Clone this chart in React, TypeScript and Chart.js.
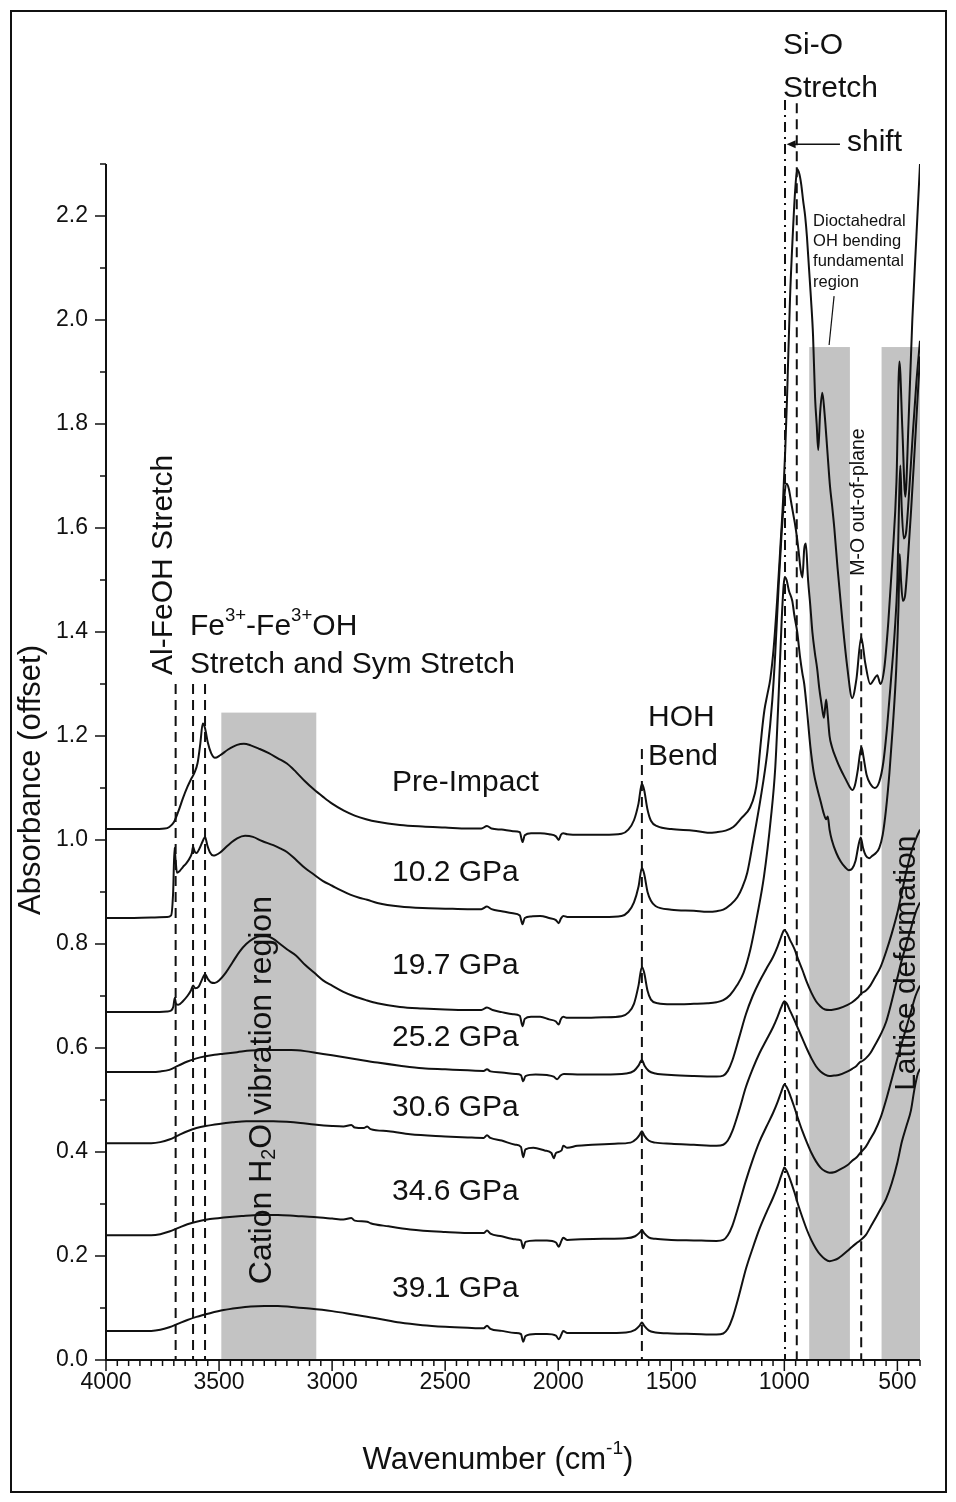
import { useEffect, useRef } from 'react';
import { Chart, registerables } from 'chart.js';

Chart.register(...registerables);

type Pt = [number, number];

// Absorbance spectra (wavenumber in cm^-1, absorbance with vertical offset)
const preImpact: Pt[] = [
  [4000, 1.021], [3900, 1.021], [3800, 1.021], [3740, 1.022], [3720, 1.025], [3700, 1.034], [3680, 1.055],
  [3660, 1.08], [3640, 1.102], [3625, 1.116], [3610, 1.128], [3595, 1.148], [3583, 1.185], [3572, 1.224],
  [3562, 1.215], [3550, 1.188], [3535, 1.167], [3518, 1.158], [3495, 1.163], [3460, 1.174], [3420, 1.183],
  [3390, 1.185], [3360, 1.182], [3320, 1.175], [3280, 1.167], [3240, 1.157], [3200, 1.147], [3160, 1.131],
  [3120, 1.113], [3080, 1.097], [3040, 1.083], [3000, 1.07], [2950, 1.057], [2900, 1.047], [2850, 1.04],
  [2800, 1.035], [2700, 1.029], [2600, 1.026], [2500, 1.024], [2400, 1.022], [2340, 1.022], [2315, 1.027],
  [2295, 1.022], [2250, 1.02], [2200, 1.017], [2170, 1.015], [2158, 0.996], [2148, 1.009], [2120, 1.013],
  [2080, 1.013], [2040, 1.011], [2010, 1.007], [1998, 1.0], [1988, 1.01], [1978, 1.013], [1960, 1.011],
  [1900, 1.01], [1800, 1.01], [1720, 1.012], [1690, 1.02], [1665, 1.038], [1645, 1.07], [1630, 1.108],
  [1620, 1.096], [1605, 1.058], [1590, 1.037], [1560, 1.026], [1500, 1.021], [1400, 1.018], [1340, 1.014],
  [1300, 1.015], [1260, 1.018], [1226, 1.025], [1190, 1.042], [1152, 1.062], [1130, 1.09], [1120, 1.115],
  [1108, 1.17], [1099, 1.21], [1088, 1.25], [1075, 1.28], [1062, 1.31], [1047, 1.37], [1032, 1.46],
  [1018, 1.56], [1006, 1.65], [996, 1.75], [988, 1.85], [975, 2.04], [962, 2.17], [952, 2.25], [943, 2.29],
  [933, 2.28], [925, 2.26], [917, 2.23], [908, 2.2], [900, 2.16], [891, 2.1], [882, 2.04], [873, 1.97],
  [864, 1.85], [857, 1.8], [850, 1.75], [842, 1.82], [832, 1.86], [822, 1.82], [810, 1.75], [798, 1.68],
  [788, 1.64], [779, 1.6], [765, 1.525], [743, 1.42], [721, 1.33], [700, 1.273], [681, 1.31], [660, 1.39],
  [642, 1.34], [620, 1.3], [602, 1.31], [589, 1.317], [575, 1.3], [558, 1.33], [540, 1.42], [522, 1.54],
  [504, 1.69], [491, 1.92], [478, 1.79], [465, 1.66], [451, 1.8], [434, 2.0], [416, 2.16], [400, 2.3],
];

const gpa10_2: Pt[] = [
  [4000, 0.85], [3900, 0.85], [3800, 0.851], [3730, 0.852], [3712, 0.855], [3703, 0.9], [3697, 0.985],
  [3692, 0.96], [3686, 0.937], [3675, 0.94], [3660, 0.948], [3645, 0.955], [3630, 0.965], [3620, 0.975],
  [3615, 0.987], [3608, 0.978], [3600, 0.975], [3585, 0.985], [3570, 1.0], [3562, 1.006], [3552, 0.99],
  [3540, 0.976], [3525, 0.97], [3515, 0.971], [3495, 0.976], [3460, 0.99], [3420, 1.003], [3385, 1.008],
  [3350, 1.006], [3310, 0.998], [3260, 0.99], [3230, 0.984], [3200, 0.977], [3160, 0.962], [3120, 0.946],
  [3085, 0.935], [3040, 0.921], [3000, 0.912], [2965, 0.904], [2920, 0.895], [2880, 0.889], [2845, 0.885],
  [2800, 0.879], [2700, 0.872], [2600, 0.869], [2500, 0.868], [2400, 0.867], [2340, 0.867], [2315, 0.872],
  [2295, 0.867], [2250, 0.863], [2200, 0.859], [2170, 0.855], [2158, 0.838], [2148, 0.85], [2120, 0.853],
  [2080, 0.854], [2040, 0.85], [2010, 0.846], [1998, 0.84], [1988, 0.849], [1978, 0.854], [1960, 0.852],
  [1900, 0.852], [1800, 0.852], [1720, 0.854], [1690, 0.862], [1665, 0.88], [1645, 0.91], [1630, 0.946],
  [1620, 0.935], [1605, 0.9], [1590, 0.883], [1570, 0.873], [1500, 0.866], [1400, 0.864], [1340, 0.862],
  [1300, 0.863], [1270, 0.866], [1240, 0.875], [1208, 0.89], [1185, 0.91], [1164, 0.937], [1137, 1.0],
  [1106, 1.077], [1075, 1.17], [1053, 1.27], [1040, 1.36], [1025, 1.49], [1012, 1.59], [1000, 1.66],
  [990, 1.685], [980, 1.675], [970, 1.65], [962, 1.63], [950, 1.6], [938, 1.56], [928, 1.52], [920, 1.505],
  [912, 1.56], [905, 1.57], [895, 1.5], [885, 1.45], [876, 1.4], [865, 1.36], [855, 1.33], [845, 1.29],
  [835, 1.26], [825, 1.235], [815, 1.27], [808, 1.24], [800, 1.2], [790, 1.18], [770, 1.155], [750, 1.135],
  [730, 1.118], [712, 1.103], [700, 1.096], [688, 1.105], [675, 1.135], [664, 1.17], [658, 1.178],
  [650, 1.16], [636, 1.125], [620, 1.108], [600, 1.1], [580, 1.112], [562, 1.15], [545, 1.22], [528, 1.31],
  [512, 1.4], [500, 1.5], [492, 1.66], [487, 1.72], [481, 1.64], [472, 1.58], [462, 1.59], [448, 1.67],
  [432, 1.78], [416, 1.88], [400, 1.96],
];

const gpa19_7: Pt[] = [
  [4000, 0.669], [3800, 0.669], [3730, 0.67], [3712, 0.672], [3702, 0.68], [3696, 0.696], [3690, 0.685],
  [3680, 0.683], [3660, 0.69], [3640, 0.7], [3625, 0.71], [3615, 0.72], [3605, 0.715], [3590, 0.718],
  [3575, 0.732], [3562, 0.742], [3550, 0.733], [3535, 0.726], [3520, 0.725], [3500, 0.73], [3470, 0.745],
  [3440, 0.765], [3410, 0.785], [3380, 0.8], [3350, 0.81], [3320, 0.815], [3290, 0.815], [3260, 0.81],
  [3230, 0.8], [3200, 0.79], [3160, 0.778], [3120, 0.76], [3080, 0.745], [3040, 0.73], [3000, 0.72],
  [2950, 0.708], [2900, 0.699], [2850, 0.692], [2800, 0.686], [2700, 0.679], [2600, 0.676], [2500, 0.674],
  [2400, 0.673], [2340, 0.673], [2315, 0.678], [2290, 0.673], [2250, 0.669], [2200, 0.665], [2170, 0.662],
  [2158, 0.642], [2148, 0.656], [2120, 0.66], [2080, 0.66], [2040, 0.655], [2010, 0.651], [1998, 0.645],
  [1988, 0.656], [1978, 0.66], [1960, 0.658], [1900, 0.658], [1800, 0.659], [1720, 0.661], [1690, 0.668],
  [1665, 0.685], [1645, 0.72], [1630, 0.756], [1620, 0.745], [1605, 0.71], [1590, 0.693], [1560, 0.686],
  [1500, 0.684], [1400, 0.685], [1340, 0.686], [1300, 0.688], [1270, 0.692], [1240, 0.702], [1210, 0.72],
  [1180, 0.745], [1150, 0.79], [1120, 0.855], [1090, 0.93], [1060, 1.04], [1040, 1.14], [1025, 1.28],
  [1012, 1.42], [1003, 1.49], [998, 1.506], [990, 1.5], [980, 1.48], [965, 1.46], [955, 1.43], [943, 1.4],
  [930, 1.35], [920, 1.32], [912, 1.3], [900, 1.25], [885, 1.18], [870, 1.13], [855, 1.1], [840, 1.075],
  [825, 1.05], [815, 1.04], [808, 1.045], [800, 1.02], [790, 1.0], [770, 0.975], [750, 0.958], [730, 0.947],
  [715, 0.942], [700, 0.945], [685, 0.96], [672, 0.99], [662, 1.005], [652, 0.985], [640, 0.97],
  [625, 0.965], [610, 0.97], [595, 0.975], [580, 0.985], [565, 1.01], [550, 1.06], [535, 1.13], [520, 1.22],
  [505, 1.33], [495, 1.45], [490, 1.55], [484, 1.5], [476, 1.46], [466, 1.47], [455, 1.53], [440, 1.63],
  [425, 1.74], [412, 1.84], [400, 1.93],
];

const gpa25_2: Pt[] = [
  [4000, 0.554], [3800, 0.554], [3760, 0.555], [3720, 0.558], [3680, 0.566], [3640, 0.574], [3600, 0.58],
  [3560, 0.584], [3520, 0.587], [3480, 0.589], [3420, 0.592], [3360, 0.595], [3300, 0.596], [3240, 0.596],
  [3180, 0.596], [3120, 0.594], [3060, 0.59], [3000, 0.586], [2900, 0.579], [2800, 0.572], [2700, 0.566],
  [2600, 0.561], [2500, 0.559], [2400, 0.557], [2330, 0.556], [2315, 0.559], [2300, 0.555], [2250, 0.553],
  [2190, 0.55], [2165, 0.548], [2155, 0.536], [2145, 0.546], [2100, 0.549], [2050, 0.548], [2020, 0.545],
  [2005, 0.54], [1990, 0.547], [1975, 0.55], [1900, 0.549], [1800, 0.549], [1700, 0.551], [1665, 0.556],
  [1645, 0.566], [1630, 0.577], [1618, 0.566], [1600, 0.556], [1570, 0.551], [1500, 0.548], [1400, 0.546],
  [1300, 0.545], [1270, 0.547], [1250, 0.556], [1230, 0.576], [1200, 0.62], [1170, 0.665], [1140, 0.7],
  [1110, 0.728], [1080, 0.752], [1050, 0.775], [1030, 0.795], [1015, 0.813], [1005, 0.824], [1000, 0.827],
  [990, 0.822], [975, 0.808], [955, 0.79], [940, 0.772], [920, 0.75], [900, 0.726], [880, 0.706],
  [860, 0.69], [840, 0.68], [820, 0.674], [800, 0.673], [780, 0.674], [760, 0.676], [720, 0.683],
  [700, 0.688], [675, 0.697], [660, 0.705], [640, 0.71], [620, 0.72], [600, 0.735], [575, 0.755],
  [550, 0.785], [525, 0.82], [500, 0.86], [480, 0.9], [460, 0.94], [440, 0.975], [420, 1.0], [400, 1.02],
];

const gpa30_6: Pt[] = [
  [4000, 0.417], [3800, 0.417], [3760, 0.419], [3720, 0.424], [3680, 0.432], [3640, 0.44], [3600, 0.446],
  [3560, 0.45], [3500, 0.454], [3440, 0.457], [3380, 0.459], [3320, 0.459], [3260, 0.459], [3200, 0.458],
  [3140, 0.456], [3080, 0.453], [3000, 0.45], [2950, 0.449], [2915, 0.452], [2900, 0.447], [2860, 0.446],
  [2845, 0.449], [2830, 0.444], [2750, 0.44], [2655, 0.434], [2500, 0.43], [2400, 0.428], [2330, 0.427],
  [2315, 0.432], [2300, 0.427], [2250, 0.422], [2190, 0.414], [2165, 0.41], [2155, 0.39], [2145, 0.405],
  [2110, 0.408], [2060, 0.403], [2030, 0.398], [2020, 0.388], [2010, 0.398], [1985, 0.403], [1978, 0.412],
  [1960, 0.408], [1916, 0.412], [1850, 0.414], [1750, 0.416], [1680, 0.418], [1655, 0.425], [1640, 0.433],
  [1630, 0.44], [1620, 0.432], [1600, 0.422], [1570, 0.418], [1500, 0.416], [1400, 0.414], [1300, 0.412],
  [1270, 0.414], [1250, 0.422], [1230, 0.44], [1200, 0.48], [1170, 0.525], [1140, 0.56], [1110, 0.59],
  [1080, 0.615], [1050, 0.64], [1030, 0.66], [1015, 0.677], [1005, 0.687], [1000, 0.69], [990, 0.686],
  [975, 0.672], [955, 0.653], [940, 0.638], [920, 0.618], [900, 0.598], [880, 0.58], [860, 0.565],
  [840, 0.555], [820, 0.549], [800, 0.546], [780, 0.547], [760, 0.548], [720, 0.555], [700, 0.56],
  [680, 0.566], [665, 0.573], [655, 0.575], [640, 0.58], [620, 0.59], [600, 0.605], [575, 0.625],
  [550, 0.65], [525, 0.69], [500, 0.735], [480, 0.77], [460, 0.8], [440, 0.83], [420, 0.86], [400, 0.88],
];

const gpa34_6: Pt[] = [
  [4000, 0.24], [3800, 0.24], [3760, 0.242], [3720, 0.247], [3680, 0.254], [3640, 0.261], [3600, 0.266],
  [3540, 0.271], [3480, 0.274], [3400, 0.277], [3320, 0.279], [3240, 0.279], [3160, 0.277], [3080, 0.275],
  [3000, 0.272], [2950, 0.27], [2915, 0.273], [2900, 0.268], [2845, 0.266], [2830, 0.263], [2750, 0.257],
  [2655, 0.251], [2500, 0.246], [2400, 0.244], [2330, 0.244], [2315, 0.249], [2300, 0.243], [2250, 0.238],
  [2190, 0.232], [2165, 0.23], [2155, 0.215], [2145, 0.227], [2100, 0.23], [2050, 0.23], [2010, 0.226],
  [1998, 0.218], [1985, 0.23], [1978, 0.235], [1960, 0.231], [1900, 0.232], [1800, 0.233], [1700, 0.234],
  [1660, 0.238], [1640, 0.245], [1630, 0.25], [1620, 0.244], [1600, 0.236], [1570, 0.233], [1500, 0.231],
  [1400, 0.23], [1300, 0.229], [1270, 0.231], [1250, 0.24], [1230, 0.258], [1200, 0.3], [1170, 0.345],
  [1140, 0.385], [1110, 0.42], [1080, 0.448], [1050, 0.475], [1030, 0.496], [1015, 0.514], [1005, 0.526],
  [1000, 0.53], [990, 0.525], [975, 0.51], [955, 0.485], [940, 0.465], [920, 0.44], [900, 0.418],
  [880, 0.398], [860, 0.382], [840, 0.37], [820, 0.363], [800, 0.36], [780, 0.361], [760, 0.365],
  [720, 0.375], [700, 0.383], [680, 0.39], [665, 0.398], [640, 0.41], [620, 0.425], [600, 0.44],
  [575, 0.465], [550, 0.5], [525, 0.54], [500, 0.58], [480, 0.61], [460, 0.64], [440, 0.67], [420, 0.7],
  [400, 0.72],
];

const gpa39_1: Pt[] = [
  [4000, 0.056], [3800, 0.056], [3760, 0.058], [3720, 0.063], [3680, 0.07], [3640, 0.077], [3600, 0.083],
  [3540, 0.09], [3480, 0.096], [3420, 0.1], [3360, 0.103], [3300, 0.104], [3240, 0.104], [3180, 0.102],
  [3100, 0.099], [3000, 0.094], [2900, 0.087], [2800, 0.08], [2700, 0.072], [2600, 0.067], [2500, 0.064],
  [2400, 0.062], [2330, 0.061], [2315, 0.066], [2300, 0.06], [2250, 0.056], [2190, 0.052], [2165, 0.05],
  [2155, 0.035], [2145, 0.046], [2100, 0.05], [2050, 0.05], [2010, 0.047], [1998, 0.04], [1985, 0.05],
  [1978, 0.056], [1960, 0.052], [1900, 0.052], [1800, 0.052], [1700, 0.053], [1660, 0.058], [1640, 0.066],
  [1630, 0.072], [1620, 0.066], [1600, 0.057], [1570, 0.053], [1500, 0.051], [1400, 0.05], [1300, 0.049],
  [1270, 0.051], [1250, 0.06], [1230, 0.08], [1200, 0.125], [1170, 0.175], [1140, 0.215], [1110, 0.252],
  [1080, 0.283], [1050, 0.312], [1030, 0.334], [1015, 0.353], [1005, 0.365], [1000, 0.37], [990, 0.364],
  [975, 0.348], [955, 0.322], [940, 0.3], [920, 0.274], [900, 0.25], [880, 0.23], [860, 0.214],
  [840, 0.202], [820, 0.194], [800, 0.19], [780, 0.192], [760, 0.196], [720, 0.21], [700, 0.218],
  [680, 0.225], [665, 0.23], [640, 0.24], [620, 0.255], [600, 0.27], [575, 0.29], [550, 0.31],
  [525, 0.34], [500, 0.38], [480, 0.42], [460, 0.45], [440, 0.48], [425, 0.52], [410, 0.55], [400, 0.56],
];

const spectra: Pt[][] = [preImpact, gpa10_2, gpa19_7, gpa25_2, gpa30_6, gpa34_6, gpa39_1];
const spectrumNames = ['Pre-Impact', '10.2 GPa', '19.7 GPa', '25.2 GPa', '30.6 GPa', '34.6 GPa', '39.1 GPa'];

// Axis ticks
const xMajorTicks = [4000, 3500, 3000, 2500, 2000, 1500, 1000, 500];
const yMajorTicks = [0, 0.2, 0.4, 0.6, 0.8, 1.0, 1.2, 1.4, 1.6, 1.8, 2.0, 2.2];
const yMinorTicks = [0.1, 0.3, 0.5, 0.7, 0.9, 1.1, 1.3, 1.5, 1.7, 1.9, 2.1, 2.3];

// Shaded spectral regions: [from, to, top]
const shadedRegions: [number, number, number][] = [
  [3490, 3070, 1.245],
  [890, 710, 1.948],
  [570, 400, 1.948],
];

// Band markers: [wavenumber, top absorbance, style]
const bandMarkers: [number, number, 'dash' | 'dashdot'][] = [
  [3692, 1.3, 'dash'],
  [3615, 1.3, 'dash'],
  [3562, 1.3, 'dash'],
  [1630, 1.175, 'dash'],
  [997, 2.423, 'dashdot'],
  [945, 2.417, 'dash'],
  [660, 1.49, 'dash'],
];

// Spectrum labels: anchor in data coordinates (left edge, vertical centre)
const spectrumLabelAnchor: [number, number][] = [
  [2735, 1.11], [2735, 0.938], [2735, 0.758], [2735, 0.619], [2735, 0.485], [2735, 0.323], [2735, 0.138],
];

const FONT = '"Liberation Sans", Arial, Helvetica, sans-serif';
const font = (size: number) => `${size}px ${FONT}`;

type Part = [string, 'n' | 'sup' | 'sub'];

function drawRich(ctx: CanvasRenderingContext2D, parts: Part[], x: number, y: number, size: number, align: 'left' | 'center') {
  const small = size * 0.62;
  ctx.textAlign = 'left';
  ctx.textBaseline = 'middle';
  const widths = parts.map(([t, k]) => {
    ctx.font = font(k === 'n' ? size : small);
    return ctx.measureText(t).width;
  });
  const total = widths.reduce((a, b) => a + b, 0);
  let cx = align === 'center' ? x - total / 2 : x;
  parts.forEach(([t, k], i) => {
    ctx.font = font(k === 'n' ? size : small);
    const dy = k === 'sup' ? -size * 0.36 : k === 'sub' ? size * 0.24 : 0;
    ctx.fillText(t, cx, y + dy);
    cx += widths[i];
  });
}

function drawRotated(ctx: CanvasRenderingContext2D, parts: Part[], x: number, y: number, size: number) {
  ctx.save();
  ctx.translate(x, y);
  ctx.rotate(-Math.PI / 2);
  drawRich(ctx, parts, 0, 0, size, 'center');
  ctx.restore();
}

const decorations = {
  id: 'spectraDecorations',
  beforeDraw(chart: Chart) {
    const { ctx, width, height } = chart;
    ctx.save();
    ctx.fillStyle = '#ffffff';
    ctx.fillRect(0, 0, width, height);
    ctx.restore();
  },
  beforeDatasetsDraw(chart: Chart) {
    const { ctx } = chart;
    const xs = chart.scales.x;
    const ys = chart.scales.y;
    ctx.save();
    ctx.fillStyle = '#c3c3c3';
    for (const [from, to, top] of shadedRegions) {
      const x1 = xs.getPixelForValue(from);
      const x2 = xs.getPixelForValue(to);
      const yt = ys.getPixelForValue(top);
      const yb = ys.getPixelForValue(0);
      ctx.fillRect(Math.min(x1, x2), yt, Math.abs(x2 - x1), yb - yt);
    }
    ctx.restore();
  },
  afterDatasetsDraw(chart: Chart) {
    const { ctx, chartArea } = chart;
    const xs = chart.scales.x;
    const ys = chart.scales.y;
    const px = (v: number) => xs.getPixelForValue(v);
    const py = (v: number) => ys.getPixelForValue(v);
    ctx.save();
    ctx.strokeStyle = '#111';
    ctx.fillStyle = '#111';

    // band marker lines
    ctx.lineWidth = 2;
    for (const [wn, top, style] of bandMarkers) {
      ctx.setLineDash(style === 'dash' ? [10, 6] : [10, 5, 2, 5]);
      ctx.beginPath();
      ctx.moveTo(px(wn), py(top));
      ctx.lineTo(px(wn), py(0));
      ctx.stroke();
    }
    ctx.setLineDash([]);

    // shift arrow
    ctx.lineWidth = 1.5;
    const ay = py(2.338);
    const tip = px(990);
    ctx.beginPath();
    ctx.moveTo(px(754), ay);
    ctx.lineTo(tip + 6, ay);
    ctx.stroke();
    ctx.beginPath();
    ctx.moveTo(tip, ay);
    ctx.lineTo(tip + 9, ay - 4);
    ctx.lineTo(tip + 9, ay + 4);
    ctx.closePath();
    ctx.fill();

    // leader line for the OH bending region
    ctx.lineWidth = 1.2;
    ctx.beginPath();
    ctx.moveTo(px(780), py(2.046));
    ctx.lineTo(px(802), py(1.952));
    ctx.stroke();

    // axes
    ctx.lineWidth = 2;
    ctx.beginPath();
    ctx.moveTo(chartArea.left, py(2.3));
    ctx.lineTo(chartArea.left, chartArea.bottom);
    ctx.lineTo(chartArea.right, chartArea.bottom);
    ctx.stroke();

    ctx.lineWidth = 1.5;
    for (const v of yMajorTicks) {
      ctx.beginPath();
      ctx.moveTo(chartArea.left - 11, py(v));
      ctx.lineTo(chartArea.left, py(v));
      ctx.stroke();
    }
    for (const v of yMinorTicks) {
      ctx.beginPath();
      ctx.moveTo(chartArea.left - 6, py(v));
      ctx.lineTo(chartArea.left, py(v));
      ctx.stroke();
    }
    for (let v = 4000; v >= 400; v -= 50) {
      const major = v % 500 === 0;
      ctx.beginPath();
      ctx.moveTo(px(v), chartArea.bottom);
      ctx.lineTo(px(v), chartArea.bottom + (major ? 11 : 6));
      ctx.stroke();
    }

    // tick labels
    ctx.font = font(23);
    ctx.textAlign = 'right';
    ctx.textBaseline = 'middle';
    for (const v of yMajorTicks) ctx.fillText(v.toFixed(1), chartArea.left - 18, py(v));
    ctx.textAlign = 'center';
    for (const v of xMajorTicks) ctx.fillText(String(v), px(v), chartArea.bottom + 23);

    // axis titles
    drawRotated(ctx, [['Absorbance (offset)', 'n']], 31, 780, 31);
    drawRich(ctx, [['Wavenumber (cm', 'n'], ['-1', 'sup'], [')', 'n']], 498, 1460, 31, 'center');

    // spectrum labels
    spectrumNames.forEach((name, i) => {
      const [wn, ab] = spectrumLabelAnchor[i];
      drawRich(ctx, [[name, 'n']], px(wn), py(ab), 30, 'left');
    });

    // band annotations
    drawRotated(ctx, [['Al-FeOH Stretch', 'n']], px(3743), py(1.529), 30);
    drawRich(ctx, [['Fe', 'n'], ['3+', 'sup'], ['-Fe', 'n'], ['3+', 'sup'], ['OH', 'n']], px(3629), py(1.41), 30, 'left');
    drawRich(ctx, [['Stretch and Sym Stretch', 'n']], px(3629), py(1.337), 30, 'left');
    drawRich(ctx, [['HOH', 'n']], px(1603), py(1.235), 30, 'left');
    drawRich(ctx, [['Bend', 'n']], px(1603), py(1.16), 30, 'left');
    drawRich(ctx, [['Si-O', 'n']], px(1006), py(2.527), 30, 'left');
    drawRich(ctx, [['Stretch', 'n']], px(1006), py(2.444), 30, 'left');
    drawRich(ctx, [['shift', 'n']], px(723), py(2.34), 30, 'left');
    const dioLines = ['Dioctahedral', 'OH bending', 'fundamental', 'region'];
    const dioY = [2.19, 2.151, 2.112, 2.072];
    dioLines.forEach((t, i) => drawRich(ctx, [[t, 'n']], px(873), py(dioY[i]), 16.5, 'left'));
    drawRotated(ctx, [['M-O out-of-plane', 'n']], px(670), py(1.65), 19.5);
    drawRotated(ctx, [['Lattice deformation', 'n']], px(457), py(0.763), 30);
    drawRotated(ctx, [['Cation H', 'n'], ['2', 'sub'], ['O vibration region', 'n']], px(3310), py(0.519), 32);

    // outer frame
    ctx.lineWidth = 2;
    ctx.strokeRect(11, 11, 935, 1481);
    ctx.restore();
  },
};

export default function App() {
  const canvasRef = useRef<HTMLCanvasElement | null>(null);

  useEffect(() => {
    const canvas = canvasRef.current;
    if (!canvas) return;
    const chart = new Chart(canvas, {
      type: 'line',
      data: {
        datasets: spectra.map((pts, i) => ({
          label: spectrumNames[i],
          data: pts.map(([x, y]) => ({ x, y })),
          borderColor: '#111111',
          borderWidth: 2,
          pointRadius: 0,
          fill: false,
          cubicInterpolationMode: 'monotone' as const,
        })),
      },
      options: {
        animation: false,
        responsive: false,
        devicePixelRatio: 1,
        layout: { padding: { left: 106, top: 164, right: 36, bottom: 142 } },
        scales: {
          x: { type: 'linear', reverse: true, min: 400, max: 4000, display: false },
          y: { type: 'linear', min: 0, max: 2.3, display: false },
        },
        plugins: { legend: { display: false }, tooltip: { enabled: false } },
      },
      plugins: [decorations],
    });
    return () => chart.destroy();
  }, []);

  return (
    <div style={{ position: 'absolute', left: 0, top: 0, width: 956, height: 1502 }}>
      <canvas ref={canvasRef} width={956} height={1502} style={{ width: 956, height: 1502 }} />
    </div>
  );
}
